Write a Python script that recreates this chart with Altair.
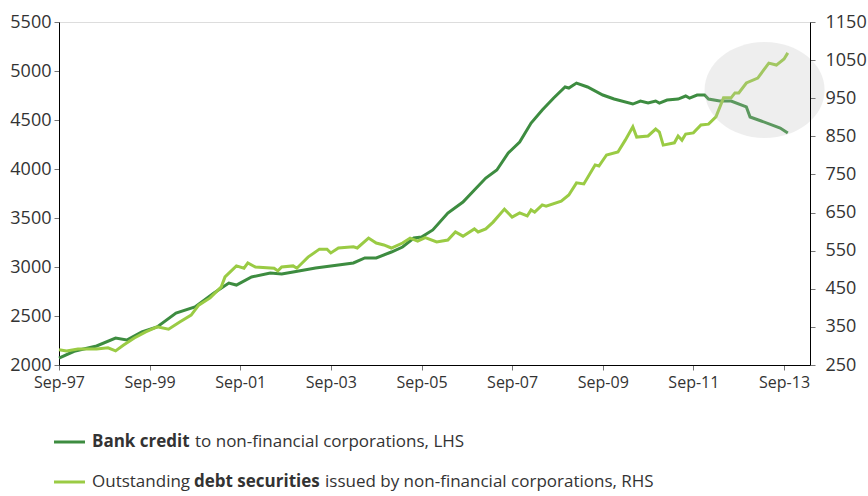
import altair as alt
import pandas as pd

# ---------------- data ----------------
bank_dates = ["1997-09", "1998-01", "1998-07", "1998-12", "1999-03", "1999-07", "1999-11",
              "2000-04", "2000-09", "2001-02", "2001-06", "2001-08", "2001-12", "2002-05",
              "2002-08", "2002-11", "2003-05", "2003-11", "2004-03", "2004-06", "2004-09",
              "2005-01", "2005-04", "2005-07", "2005-09", "2005-12", "2006-04", "2006-08",
              "2006-11", "2007-02", "2007-05", "2007-08", "2007-11", "2008-02", "2008-05",
              "2008-08", "2008-11", "2008-12", "2009-02", "2009-05", "2009-09", "2009-12",
              "2010-05", "2010-07", "2010-09", "2010-11", "2010-12", "2011-02", "2011-05",
              "2011-07", "2011-08", "2011-10", "2011-12", "2012-01", "2012-04", "2012-07",
              "2012-11", "2012-12", "2013-03", "2013-08", "2013-10"]
bank_values = [2070, 2140, 2194, 2275, 2255, 2337, 2388,
               2530, 2592, 2734, 2836, 2816, 2898, 2939,
               2929, 2949, 2990, 3020, 3041, 3092, 3092,
               3153, 3204, 3296, 3306, 3378, 3551, 3663,
               3786, 3908, 3990, 4163, 4276, 4469, 4602,
               4724, 4837, 4826, 4877, 4837, 4755, 4714,
               4663, 4694, 4673, 4694, 4673, 4704, 4714,
               4745, 4724, 4755, 4755, 4714, 4694, 4694,
               4633, 4531, 4490, 4418, 4367]

debt_dates = ["1997-09", "1997-11", "1998-02", "1998-07", "1998-10", "1998-12", "1999-02",
              "1999-05", "1999-08", "1999-11", "2000-02", "2000-05", "2000-08", "2000-10",
              "2001-01", "2001-04", "2001-05", "2001-08", "2001-10", "2001-11", "2002-01",
              "2002-06", "2002-07", "2002-08", "2002-11", "2002-12", "2003-03", "2003-06",
              "2003-08", "2003-09", "2003-11", "2004-03", "2004-04", "2004-07", "2004-09",
              "2004-11", "2005-01", "2005-04", "2005-06", "2005-08", "2005-10", "2006-01",
              "2006-04", "2006-06", "2006-08", "2006-11", "2006-12", "2007-02", "2007-04",
              "2007-07", "2007-09", "2007-11", "2008-01", "2008-02", "2008-03", "2008-05",
              "2008-06", "2008-10", "2008-12", "2009-02", "2009-04", "2009-07", "2009-08",
              "2009-10", "2010-01", "2010-03", "2010-05", "2010-06", "2010-09", "2010-11",
              "2010-12", "2011-01", "2011-04", "2011-05", "2011-06", "2011-07", "2011-09",
              "2011-11", "2012-01", "2012-03", "2012-05", "2012-07", "2012-08", "2012-09",
              "2012-11", "2013-02", "2013-05", "2013-07", "2013-09", "2013-10"]
debt_values = [290, 287, 292, 292, 295, 287, 302,
               321, 337, 350, 344, 363, 381, 407,
               426, 455, 481, 510, 504, 518, 507,
               504, 497, 507, 510, 504, 533, 554,
               554, 544, 557, 560, 557, 583, 570,
               565, 557, 570, 583, 575, 584, 573,
               578, 599, 588, 607, 599, 607, 625,
               659, 638, 649, 641, 657, 651, 670,
               667, 680, 696, 728, 725, 775, 772,
               801, 809, 840, 875, 848, 851, 869,
               861, 827, 833, 851, 840, 856, 859,
               880, 882, 901, 951, 951, 964, 964,
               990, 1003, 1042, 1037, 1053, 1069]

x_tick_years = [1997, 1999, 2001, 2003, 2005, 2007, 2009, 2011, 2013]
left_ticks = [2000, 2500, 3000, 3500, 4000, 4500, 5000, 5500]
right_ticks = [250, 350, 450, 550, 650, 750, 850, 950, 1050, 1150]

# highlighted region (centre of the grey ellipse)
highlight_date = ["2013-03-28"]
highlight_value = [4806]

legend1_bold = "Bank credit"
legend1_rest = "to non-financial corporations, LHS"
legend2_start = "Outstanding"
legend2_bold = "debt securities"
legend2_rest = "issued by non-financial corporations, RHS"

# ---------------- styling ----------------
FONT = "Open Sans"
DARK = "#3d8c40"
LIGHT = "#9acb44"
TXT = "#333333"

bank_df = pd.DataFrame({"date": pd.to_datetime(bank_dates), "value": bank_values})
debt_df = pd.DataFrame({"date": pd.to_datetime(debt_dates), "value": debt_values})
hl_df = pd.DataFrame({"date": pd.to_datetime(highlight_date), "value": highlight_value})
one = pd.DataFrame({"a": [0]})

x_scale = alt.Scale(domain=[alt.DateTime(year=1997, month=9, date=1),
                            alt.DateTime(year=2014, month=3, date=29)])
left_scale = alt.Scale(domain=[2000, 5500], nice=False, zero=False)
right_scale = alt.Scale(domain=[250, 1150], nice=False, zero=False)

x_axis = alt.Axis(values=[alt.DateTime(year=y, month=9, date=1) for y in x_tick_years],
                  format="%b-%y", title=None, grid=False, labelFont=FONT, labelFontSize=16,
                  labelColor=TXT, tickColor="#777777", tickSize=5, domainColor="#000000",
                  labelPadding=4, labelFlush=False, labelOverlap=False)
left_axis = alt.Axis(values=left_ticks, format="d", title=None, grid=False, orient="left",
                     labelFont=FONT, labelFontSize=18, labelColor=TXT, tickColor="#777777",
                     tickSize=5, domainColor="#000000", labelPadding=3)
right_axis = alt.Axis(values=right_ticks, format="d", title=None, grid=False, orient="right",
                      labelFont=FONT, labelFontSize=18, labelColor=TXT, tickColor="#777777",
                      tickSize=5, domainColor="#000000", labelPadding=10, zindex=1)

X = alt.X("date:T", scale=x_scale, axis=x_axis)

bank = alt.Chart(bank_df).mark_line(color=DARK, strokeWidth=3).encode(
    x=X, y=alt.Y("value:Q", scale=left_scale, axis=left_axis))
debt = alt.Chart(debt_df).mark_line(color=LIGHT, strokeWidth=3).encode(
    x=X, y=alt.Y("value:Q", scale=right_scale, axis=right_axis))

ELLIPSE = "M-1,0A1,0.8,0,1,1,1,0A1,0.8,0,1,1,-1,0Z"
ellipse = alt.Chart(hl_df).mark_point(shape=ELLIPSE, filled=True, color="#bdbdbd",
                                      opacity=0.25, strokeWidth=0, size=14400).encode(
    x=X, y=alt.Y("value:Q", scale=left_scale, axis=None))

def swatch(color, y):
    return alt.Chart(one).mark_rule(color=color, strokeWidth=3).encode(
        x=alt.value(-5), x2=alt.value(26), y=alt.value(y))

def label(text, x, y, bold=False):
    return alt.Chart(one).mark_text(text=text, align="left", baseline="middle", font=FONT,
                                    fontSize=17, color=TXT,
                                    fontWeight="bold" if bold else "normal").encode(
        x=alt.value(x), y=alt.value(y))

Y1, Y2 = 420, 460
legend = [
    swatch(DARK, Y1), label(legend1_bold, 33, Y1, True), label(legend1_rest, 136, Y1),
    swatch(LIGHT, Y2), label(legend2_start, 33, Y2), label(legend2_bold, 135, Y2, True),
    label(legend2_rest, 266, Y2),
]

chart = alt.layer(bank, debt, ellipse, *legend).resolve_scale(y="independent").properties(
    width=751, height=343,
    padding={"left": 59, "top": 22, "right": 58, "bottom": 131},
    autosize=alt.AutoSizeParams(type="none"),
).configure_view(stroke=None).configure(background="white")

chart.save("out.html", embed_options={"renderer": "svg", "actions": False})
